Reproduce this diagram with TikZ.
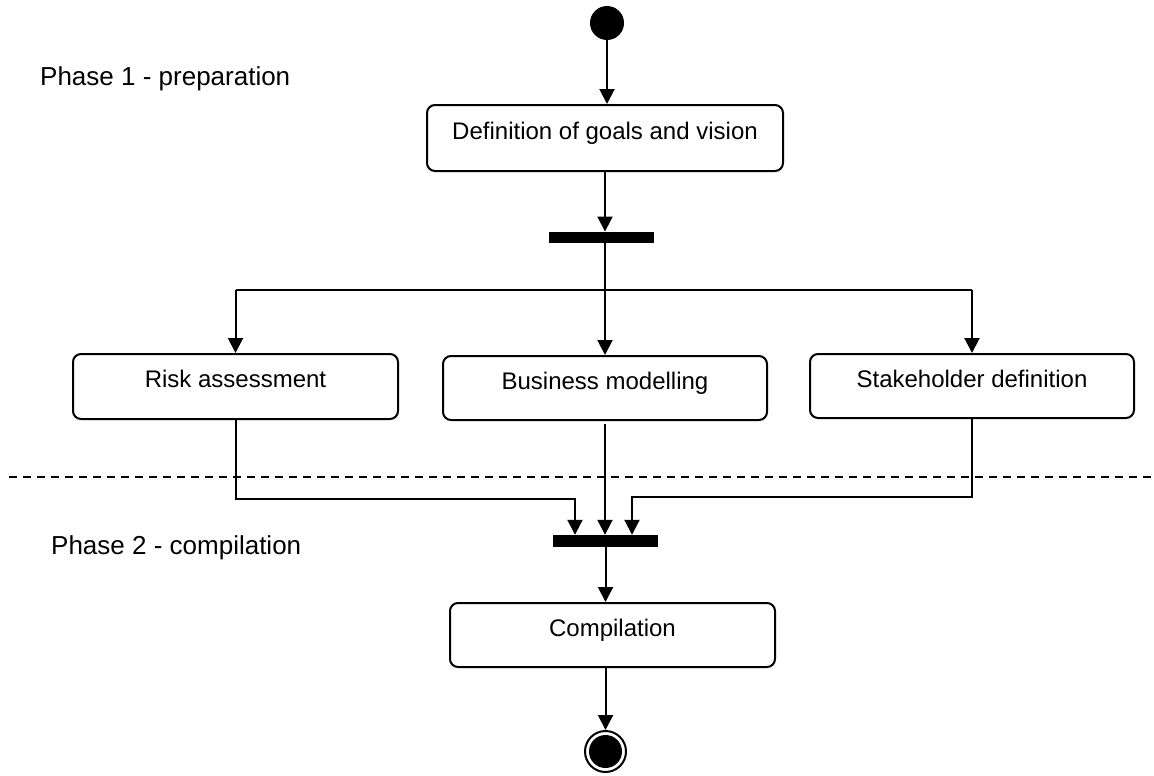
\documentclass[tikz,border=0pt]{standalone}
\usepackage{fontspec}
\setmainfont{Liberation Sans}
\usetikzlibrary{arrows.meta}
\begin{document}
\begin{tikzpicture}[x=1pt,y=-1pt,
  activity/.style={draw, line width=2pt, rounded corners=8pt, fill=white,
    inner sep=0pt, font=\fontsize{24pt}{28pt}\selectfont,
    text height=13pt, text depth=11pt, align=center},
  bar/.style={rectangle, fill=black, inner sep=0pt,
    minimum width=105pt, minimum height=11.5pt},
  flow/.style={line width=2pt, -{Triangle[length=15pt,width=15pt]}},
  link/.style={line width=2pt},
  phase/.style={inner sep=0pt, anchor=base west, font=\fontsize{26pt}{30pt}\selectfont},
]
\useasboundingbox (0,0) rectangle (1154,776);

% phase separator
\coordinate (sepL) at (9,477);
\coordinate (sepR) at (1154,477);
\draw[line width=2pt, dash pattern=on 8pt off 6pt] (sepL) -- (sepR);

% phase titles
\node[phase] (phase1) at (40,85) {Phase 1 - preparation};
\node[phase] (phase2) at (51,554) {Phase 2 - compilation};

% initial node
\node[circle, fill=black, inner sep=0pt, minimum size=34pt] (start) at (607,23) {};

% activities
\node[activity, minimum width=356pt, minimum height=66pt] (goal) at (605,138) {Definition of goals and vision};
\node[bar] (fork) at (601.5,237.5) {};
\node[activity, minimum width=325pt, minimum height=65pt] (risk) at (235.5,386.5) {Risk assessment};
\node[activity, minimum width=324pt, minimum height=64pt] (business) at (605,388) {Business modelling};
\node[activity, minimum width=324pt, minimum height=64pt] (stake) at (972,386) {Stakeholder definition};
\node[bar, minimum height=12pt] (join) at (605.5,541) {};
\node[activity, minimum width=325pt, minimum height=64pt] (comp) at (612.5,635) {Compilation};

% final node
\node[circle, draw, line width=2pt, inner sep=0pt, minimum size=41pt] (final) at (605.5,751.5) {};
\node[circle, fill=black, inner sep=0pt, minimum size=33pt] (finaldot) at (final.center) {};

% control flow: start to fork
\draw[flow] (start) -- (start |- goal.north);
\draw[flow] (goal.south) -- (goal.south |- fork.north);

% fork into the three parallel activities
\coordinate (split) at (605,290);
\draw[link] (fork.south -| split) -- (split);
\draw[link] (risk.north |- split) -- (stake.north |- split);
\draw[flow] (risk.north |- split) -- (risk.north);
\draw[flow] (split) -- (business.north);
\draw[flow] (stake.north |- split) -- (stake.north);

% parallel activities into the join
\coordinate (jl) at (575,499);
\coordinate (jr) at (632,497);
\draw[flow] (risk.south) |- (jl) -- (jl |- join.north);
\draw[flow, shorten <=3pt] (business.south) -- (business.south |- join.north);
\draw[flow] (stake.south) |- (jr) -- (jr |- join.north);

% join to compilation to final node
\draw[flow] (join.south) -- (join.south |- comp.north);
\draw[flow] (final |- comp.south) -- (final.north);
\end{tikzpicture}
\end{document}
